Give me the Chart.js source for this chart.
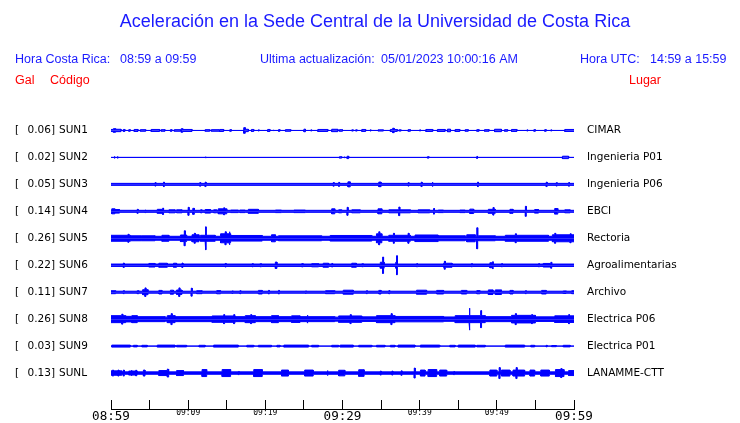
<!DOCTYPE html>
<html>
<head>
<meta charset="utf-8">
<script src="https://cdn.jsdelivr.net/npm/chart.js@4.4.0/dist/chart.umd.min.js"></script>
<style>
  body { margin: 0; background: #ffffff; }
  canvas { display: block; }
</style>
</head>
<body>
<canvas id="sismo" width="740" height="423"></canvas>
<script>
// estaciones, de arriba hacia abajo
const stationCodes = ['SUN1', 'SUN2', 'SUN3', 'SUN4', 'SUN5', 'SUN6', 'SUN7', 'SUN8', 'SUN9', 'SUNL'];
const stationNames = ['CIMAR', 'Ingenieria P01', 'Ingenieria P06', 'EBCI', 'Rectoria', 'Agroalimentarias',
  'Archivo', 'Electrica P06', 'Electrica P01', 'LANAMME-CTT'];
const peakGal = ['0.06', '0.02', '0.05', '0.14', '0.26', '0.22', '0.11', '0.26', '0.03', '0.13'];

// eje de tiempo: minutos desde 08:59
const tickLabels = ['08:59', '', '09:09', '', '09:19', '', '09:29', '', '09:39', '', '09:49', '', '09:59'];

// ruido de fondo de cada traza (semiamplitud)
const baseAmp = [0, 0, 1.0, 1.0, 2.0, 1.2, 1.0, 2.0, 0, 1.2];

// rafagas: [inicio, fin, semiamplitud]; inicio == fin es un pico aislado
const sun1Bursts = [[0.0,0.3,1.0],[0.3,0.6,1.8],[0.6,1.3,1.2],[1.6,1.8,1.0],[2.3,2.5,0.8],[3.0,3.5,1.0],[3.8,4.5,0.8],
  [5.2,6.3,1.0],[6.5,7.0,0.8],[7.7,7.9,0.8],[8.2,9.0,0.8],[9.1,9.3,1.8],[9.3,10.5,1.0],[12.2,12.8,0.8],[13.0,14.0,0.8],
  [14.1,14.6,1.0],[15.4,15.6,0.8],[17.2,17.4,2.8],[17.4,17.8,1.2],[18.2,18.5,1.0],[19.1,19.2,0.6],[20.3,20.6,1.0],
  [21.0,21.1,0.6],[21.7,21.9,0.8],[22.6,23.3,0.8],[25.0,25.2,1.3],[25.9,26.0,0.6],[26.8,28.1,1.0],[28.6,29.4,1.2],
  [29.6,30.0,0.8],[31.2,31.4,0.6],[31.7,31.9,0.6],[32.5,33.0,1.0],[33.6,33.7,0.6],[34.6,35.3,0.6],[36.2,36.5,1.0],
  [36.5,36.7,2.2],[36.7,37.1,1.0],[37.3,37.6,0.6],[38.5,38.8,0.8],[40.0,40.1,0.6],[40.8,41.7,1.0],[42.3,43.3,1.0],
  [43.6,44.0,1.3],[44.6,45.2,1.0],[45.9,46.3,0.8],[47.4,47.7,0.8],[48.4,49.0,0.8],[49.7,50.6,1.2],[51.0,51.4,0.8],
  [51.9,52.6,1.0],[53.9,54.0,0.6],[54.8,55.0,0.8],[56.2,56.4,0.8],[57.0,57.1,0.6],[58.8,60.0,1.0]];
const sun2Bursts = [[0.4,0.5,1.0],[0.8,0.9,1.0],[12.2,12.3,0.7],[29.6,29.9,0.7],[30.2,30.3,0.7],[30.6,30.8,1.2],
  [41.0,41.2,0.7],[47.4,47.5,1.0],[58.5,59.3,1.2]];
const sun3Bursts = [[5.7,5.7,1.7],[6.8,6.8,2.2],[11.5,11.5,1.8],[12.2,12.2,2.2],[28.8,28.8,1.8],[29.5,29.5,2.0],
  [30.7,31.0,2.5],[34.7,35.0,2.3],[38.5,38.5,1.7],[40.2,40.2,2.2],[41.6,41.6,2.2],[47.5,47.5,2.2],[56.4,56.4,2.2],
  [57.7,57.7,1.7],[59.3,59.3,1.8]];
const sun4Bursts = [[0.1,0.5,2.5],[0.5,1.1,1.8],[3.4,3.4,2.0],[4.4,4.4,1.3],[6.0,6.8,2.0],[6.7,6.7,3.2],[7.5,8.3,1.5],
  [8.5,9.2,1.5],[10.0,10.0,4.0],[10.6,10.8,3.0],[11.6,11.8,1.5],[12.2,12.9,1.8],[13.3,13.7,1.5],[13.9,15.0,2.5],
  [14.6,14.6,3.5],[15.5,16.5,1.3],[16.7,17.4,1.3],[17.8,19.1,2.0],[21.3,22.1,1.3],[23.7,25.2,1.3],[28.6,29.0,2.5],
  [29.5,29.9,1.5],[30.6,30.6,4.0],[31.2,32.3,1.5],[34.6,35.1,2.5],[36.0,38.8,1.5],[37.3,37.3,4.3],[39.8,41.3,1.5],
  [41.8,41.8,2.8],[42.4,43.1,1.3],[45.2,45.9,1.3],[46.5,47.0,2.2],[48.9,49.8,2.0],[49.5,49.5,3.8],[51.7,52.1,2.0],
  [53.7,53.7,5.0],[54.9,55.4,1.8],[57.5,57.9,2.8],[58.8,59.5,1.5]];
const sun5Bursts = [[0.0,2.5,3.0],[2.2,2.2,4.0],[2.5,4.0,2.5],[4.0,5.7,2.5],[6.6,7.5,3.0],[9.0,9.8,3.3],[9.5,9.5,7.5],
  [10.5,11.4,3.5],[10.8,10.8,5.0],[11.6,12.2,3.0],[12.2,12.2,11.5],[12.3,13.5,3.0],[14.2,15.5,4.5],[14.8,14.8,6.5],
  [15.3,15.3,6.5],[15.5,19.6,2.8],[20.8,21.3,3.5],[21.7,27.3,2.5],[28.4,33.8,2.8],[34.4,35.1,4.5],[34.7,34.7,6.5],
  [36.0,38.8,3.0],[36.6,36.6,5.0],[38.5,38.5,5.0],[39.4,42.4,3.3],[42.4,45.9,2.5],[46.1,47.2,3.5],[47.4,47.4,10.5],
  [47.6,49.8,2.5],[51.1,56.7,3.0],[52.4,52.4,4.5],[57.2,60.0,3.5],[57.5,57.5,5.0],[59.5,59.5,4.5]];
const sun6Bursts = [[1.6,1.6,2.2],[4.9,5.7,1.8],[6.2,7.3,2.0],[8.1,8.5,2.0],[9.2,9.2,2.2],[14.8,14.8,1.8],[18.3,18.3,1.6],
  [19.3,19.5,1.5],[21.3,21.5,3.2],[24.7,24.9,1.6],[26.0,26.9,1.6],[27.5,28.2,2.0],[28.6,28.6,1.8],[31.2,31.8,2.0],
  [32.5,32.7,1.5],[34.9,35.4,3.0],[35.2,35.2,8.2],[36.9,37.1,3.0],[37.0,37.0,9.5],[39.6,39.6,1.6],[43.1,44.2,2.0],
  [43.2,43.2,4.0],[46.7,46.7,1.6],[49.1,49.5,2.5],[49.4,49.4,3.5],[50.6,50.6,1.6],[55.4,55.4,1.6],[56.0,57.1,1.8],
  [57.0,57.0,3.0]];
const sun7Bursts = [[0.0,0.6,1.5],[1.6,1.6,1.5],[3.4,3.6,1.5],[4.1,4.8,2.5],[4.4,4.4,4.3],[6.2,6.6,1.8],[7.7,8.1,2.0],
  [8.5,9.2,2.2],[8.8,8.8,4.3],[10.4,10.4,4.0],[11.1,11.8,1.5],[13.7,14.2,1.6],[15.7,15.7,1.3],[16.7,16.7,1.5],
  [19.1,19.6,1.8],[20.4,20.4,1.8],[21.7,21.7,1.8],[25.2,25.2,1.3],[27.8,29.0,1.5],[30.1,31.4,2.0],[33.1,33.1,1.5],
  [34.7,35.0,1.8],[36.0,36.0,1.6],[39.6,40.9,2.0],[42.2,43.1,1.8],[45.4,46.1,1.8],[47.4,47.8,1.6],[48.9,49.5,2.3],
  [49.8,50.6,2.3],[51.7,52.1,1.8],[53.7,53.7,1.5],[55.8,56.4,1.8],[58.6,59.0,1.3],[59.7,60.0,1.5]];
const sun8Bursts = [[0.0,1.9,3.5],[1.4,1.4,5.0],[1.9,2.7,2.8],[2.7,3.4,3.5],[3.4,7.0,2.5],[7.3,8.3,3.5],[7.8,7.8,5.5],
  [8.3,13.1,2.5],[13.1,16.1,3.2],[14.6,14.6,4.5],[15.9,15.9,4.5],[16.1,17.4,2.5],[17.4,18.7,3.5],[18.1,18.1,4.5],
  [18.7,20.8,2.5],[20.8,21.7,3.5],[21.7,23.4,2.5],[23.4,24.5,3.3],[24.5,29.0,2.5],[25.4,25.4,4.0],[29.5,32.5,3.2],
  [31.0,31.0,4.5],[32.5,34.4,2.3],[34.4,36.8,3.5],[36.3,36.3,5.5],[36.8,43.1,2.7],[43.1,44.6,2.2],[44.6,48.5,3.5],
  [46.4,46.4,11.0],[47.9,47.9,8.5],[48.5,51.9,2.5],[51.9,55.0,3.8],[52.4,52.4,5.5],[54.5,54.5,4.5],[55.0,57.5,2.3],
  [57.5,60.0,3.3],[59.3,59.3,4.5]];
const sun9Bursts = [[0.1,2.5,1.0],[2.9,3.4,0.8],[4.0,4.7,0.8],[6.0,8.3,1.0],[8.5,9.8,0.8],[11.4,12.2,0.8],[13.3,16.5,1.0],
  [17.6,18.5,0.8],[19.1,20.8,0.8],[21.5,21.9,0.8],[22.4,25.6,1.0],[26.0,26.9,0.8],[28.6,29.5,0.8],[29.7,31.4,1.0],
  [32.1,33.8,0.8],[34.4,35.5,0.8],[36.2,36.8,0.8],[37.2,39.4,1.0],[40.1,42.6,1.0],[43.9,44.6,0.8],[45.0,47.2,1.0],
  [47.4,48.5,0.8],[51.1,53.6,1.0],[54.4,54.9,0.8],[56.4,56.4,0.8],[57.1,57.7,0.6],[58.6,59.5,0.8]];
const sunlBursts = [[0.0,1.4,2.2],[0.2,0.2,3.0],[0.9,0.9,3.0],[1.6,1.6,3.0],[2.3,3.4,2.0],[2.6,2.6,2.8],[3.2,3.2,2.8],
  [4.2,4.4,3.0],[6.2,7.5,2.5],[7.3,7.3,4.0],[8.5,9.4,2.5],[11.8,12.4,3.5],[14.4,15.5,3.5],[16.5,16.5,1.6],[18.5,19.6,3.5],
  [22.1,23.0,3.0],[25.1,26.2,3.0],[28.0,28.0,2.5],[29.5,30.3,2.8],[32.1,32.8,3.3],[34.9,34.9,2.0],[36.4,36.4,2.0],
  [37.6,37.6,2.2],[39.3,39.3,5.0],[40.1,40.7,3.0],[41.1,42.2,3.5],[42.6,43.5,3.0],[44.4,44.4,1.6],[49.1,50.0,3.0],
  [50.3,50.3,5.5],[50.6,51.7,3.0],[52.1,53.6,3.0],[52.5,52.5,5.5],[54.3,54.9,3.0],[55.7,56.8,3.0],[57.6,58.7,3.5],
  [58.3,58.3,4.5],[59.3,60.0,2.5]];
const allBursts = [sun1Bursts, sun2Bursts, sun3Bursts, sun4Bursts, sun5Bursts, sun6Bursts, sun7Bursts,
  sun8Bursts, sun9Bursts, sunlBursts];

const TRACE_BLUE = '#0000ff';
const TEXT_BLUE = '#1a1aff';
const TEXT_RED = '#ff0000';
const ROW_GAP = 27;
const SPIKE_W = 0.12;

// envolvente escalonada de una traza a partir del ruido base y sus rafagas
function envelope(base, bursts) {
  const spans = bursts.map(([s, e, a]) => [s, e > s ? e : s + SPIKE_W, a]);
  const cuts = new Set([0, 60]);
  spans.forEach(([s, e]) => { cuts.add(s); cuts.add(Math.min(e, 60)); });
  const xs = [...cuts].sort((a, b) => a - b);
  const levels = xs.map(x => {
    let a = base;
    spans.forEach(([s, e, amp]) => { if (x >= s && x < e) a = Math.max(a, amp); });
    return a;
  });
  // cada escalon como dos puntos para que el relleno siga los bordes verticales
  const pts = [];
  for (let k = 0; k < xs.length - 1; k++) {
    pts.push({ x: xs[k], a: levels[k] });
    pts.push({ x: xs[k + 1], a: levels[k] });
  }
  return pts;
}

const datasets = [];
allBursts.forEach((bursts, i) => {
  const c = ROW_GAP * (i + 1);
  const env = envelope(baseAmp[i], bursts);
  [-1, 1].forEach(sign => {
    datasets.push({
      data: env.map(p => ({ x: p.x, y: c + sign * p.a })),
      borderColor: TRACE_BLUE,
      backgroundColor: TRACE_BLUE,
      borderWidth: 1,
      pointRadius: 0,
      tension: 0,
      fill: { value: c }
    });
  });
});

const textPlugin = {
  id: 'sismoTexts',
  afterDraw(chart) {
    const ctx = chart.ctx;
    const yScale = chart.scales.y;
    ctx.save();
    ctx.textBaseline = 'middle';

    ctx.fillStyle = TEXT_BLUE;
    ctx.font = '18px "Liberation Sans", Arial, sans-serif';
    ctx.textAlign = 'center';
    ctx.fillText('Aceleración en la Sede Central de la Universidad de Costa Rica', 375, 22);

    ctx.font = '12.5px "Liberation Sans", Arial, sans-serif';
    ctx.textAlign = 'left';
    ctx.fillText('Hora Costa Rica:', 15, 60);
    ctx.fillText('08:59 a 09:59', 120, 60);
    ctx.fillText('Ultima actualización:', 260, 60);
    ctx.fillText('05/01/2023 10:00:16 AM', 381, 60);
    ctx.fillText('Hora UTC:', 580, 60);
    ctx.fillText('14:59 a 15:59', 650, 60);

    ctx.fillStyle = TEXT_RED;
    ctx.fillText('Gal', 15, 81);
    ctx.fillText('Código', 50, 81);
    ctx.fillText('Lugar', 629, 81);

    ctx.fillStyle = '#000000';
    ctx.font = '10.5px "DejaVu Sans", sans-serif';
    stationCodes.forEach((code, i) => {
      const py = yScale.getPixelForValue(ROW_GAP * (i + 1));
      ctx.textAlign = 'left';
      ctx.fillText('[', 15, py);
      ctx.textAlign = 'right';
      ctx.fillText(peakGal[i] + ']', 55, py);
      ctx.textAlign = 'left';
      ctx.fillText(code, 59, py);
      ctx.fillText(stationNames[i], 587, py);
    });
    ctx.restore();
  }
};

new Chart(document.getElementById('sismo'), {
  type: 'line',
  data: { datasets },
  options: {
    responsive: false,
    animation: false,
    events: [],
    layout: { padding: { top: 103.5, left: 111, right: 166, bottom: 0 } },
    plugins: {
      legend: { display: false },
      tooltip: { enabled: false },
      title: { display: false }
    },
    scales: {
      x: {
        type: 'linear',
        min: 0,
        max: 60,
        afterFit: scale => { scale.height = 14; },
        border: { display: true, color: '#000000', width: 1 },
        grid: { drawOnChartArea: false, drawTicks: true, tickLength: -9, color: '#000000', lineWidth: 1 },
        ticks: {
          stepSize: 5,
          autoSkip: false,
          maxRotation: 0,
          padding: 9,
          color: '#000000',
          callback: v => tickLabels[Math.round(v / 5)] ?? '',
          font: ctx => {
            const v = ctx.tick ? ctx.tick.value : 0;
            return v % 30 === 0
              ? { family: '"DejaVu Sans Mono", monospace', size: 12.6, lineHeight: 1.15 }
              : { family: '"DejaVu Sans Mono", monospace', size: 8, lineHeight: 1.0 };
          }
        }
      },
      y: { display: false, min: 0, max: 306, reverse: true }
    }
  },
  plugins: [textPlugin]
});
</script>
</body>
</html>
